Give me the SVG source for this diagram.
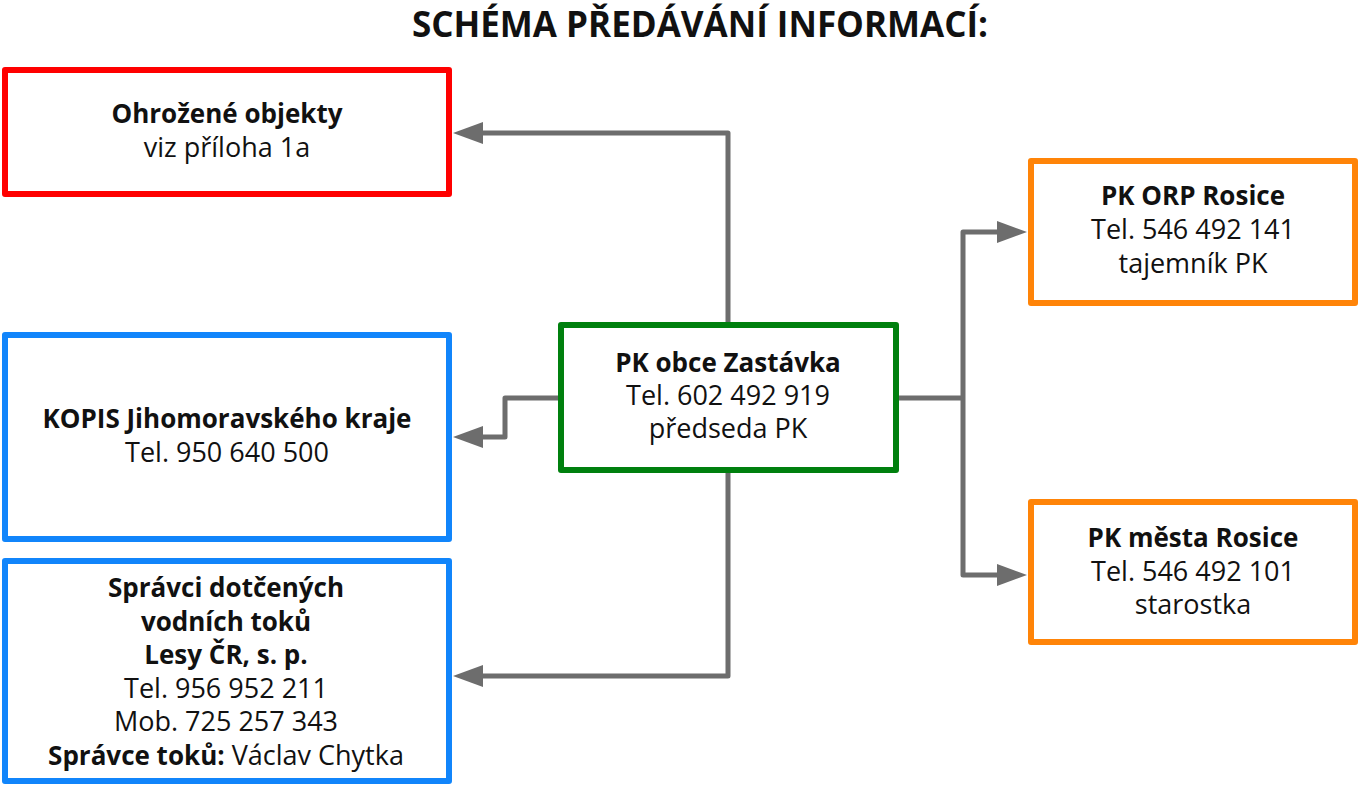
<svg xmlns="http://www.w3.org/2000/svg" width="1359" height="787" viewBox="0 0 1359 787">
<defs>
<style>
.box{fill:#fff;stroke-width:6;stroke-linejoin:round}
.red{stroke:#ff0000}
.blue{stroke:#1185fb}
.green{stroke:#00800e}
.orange{stroke:#ff8408}
.t{font-family:"Open Sans","Liberation Sans",sans-serif;font-size:27px;fill:#111;text-anchor:middle}
.b{font-weight:bold;font-size:26px}
.title{font-family:"Open Sans","Liberation Sans",sans-serif;font-size:35px;font-weight:bold;fill:#111;text-anchor:middle}
.conn{fill:none;stroke:#6d6d6d;stroke-width:5;stroke-linejoin:round}
</style>
<marker id="arr" viewBox="0 0 30 22" refX="0" refY="11" markerWidth="30" markerHeight="22" markerUnits="userSpaceOnUse" orient="auto-start-reverse">
<path d="M0,0 L30,11 L0,22 Z" fill="#6d6d6d"/>
</marker>
</defs>
<rect width="1359" height="787" fill="#fff"/>
<text class="title" x="700" y="37">SCHÉMA PŘEDÁVÁNÍ INFORMACÍ:</text>

<g id="connectors">
<path class="conn" d="M728,322 V133 H483" marker-end="url(#arr)"/>
<path class="conn" d="M558,398 H505 V437 H483" marker-end="url(#arr)"/>
<path class="conn" d="M728,472 V676 H483" marker-end="url(#arr)"/>
<path class="conn" d="M899,398 H963"/>
<path class="conn" d="M997,232 H963 V575 H997" marker-start="url(#arr)" marker-end="url(#arr)"/>
</g>

<g id="node-ohrozene">
<rect class="box red" x="5" y="70" width="444" height="124"/>
<text class="t b" x="227" y="123">Ohrožené objekty</text>
<text class="t" x="227" y="157">viz příloha 1a</text>
</g>

<g id="node-kopis">
<rect class="box blue" x="5" y="335" width="444" height="204"/>
<text class="t b" x="227" y="428">KOPIS Jihomoravského kraje</text>
<text class="t" x="227" y="462">Tel. 950 640 500</text>
</g>

<g id="node-spravci">
<rect class="box blue" x="5" y="561" width="444" height="220"/>
<text class="t b" x="226" y="597">Správci dotčených</text>
<text class="t b" x="226" y="631">vodních toků</text>
<text class="t b" x="226" y="664">Lesy ČR, s. p.</text>
<text class="t" x="226" y="698">Tel. 956 952 211</text>
<text class="t" x="226" y="731">Mob. 725 257 343</text>
<text class="t" x="226" y="765"><tspan class="b">Správce toků:</tspan> Václav Chytka</text>
</g>

<g id="node-pk-zastavka">
<rect class="box green" x="561" y="325" width="335" height="145"/>
<text class="t b" x="728" y="372">PK obce Zastávka</text>
<text class="t" x="728" y="405">Tel. 602 492 919</text>
<text class="t" x="728" y="438">předseda PK</text>
</g>

<g id="node-orp-rosice">
<rect class="box orange" x="1031" y="161" width="324" height="142"/>
<text class="t b" x="1193" y="205">PK ORP Rosice</text>
<text class="t" x="1193" y="239">Tel. 546 492 141</text>
<text class="t" x="1193" y="273">tajemník PK</text>
</g>

<g id="node-mesta-rosice">
<rect class="box orange" x="1031" y="502" width="324" height="140"/>
<text class="t b" x="1193" y="547">PK města Rosice</text>
<text class="t" x="1193" y="581">Tel. 546 492 101</text>
<text class="t" x="1193" y="614">starostka</text>
</g>
</svg>
